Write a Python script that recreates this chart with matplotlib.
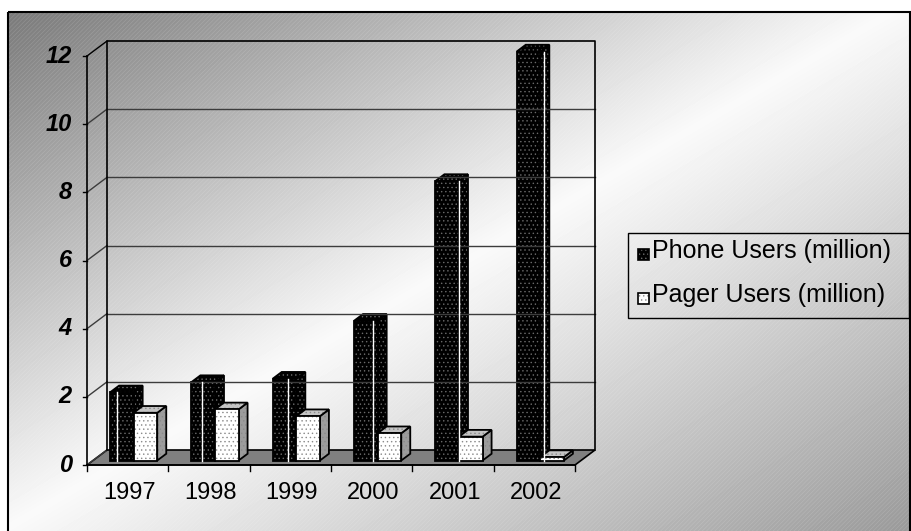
import numpy as np
import matplotlib.pyplot as plt
from matplotlib.patches import Polygon, Rectangle

# Data
years = ['1997', '1998', '1999', '2000', '2001', '2002']
phone_users = [2.0, 2.3, 2.4, 4.1, 8.2, 12.0]
pager_users = [1.4, 1.5, 1.3, 0.8, 0.7, 0.1]
series_names = ['Phone Users (million)', 'Pager Users (million)']
y_ticks = [0, 2, 4, 6, 8, 10, 12]

plt.rcParams['font.family'] = ['Liberation Sans', 'DejaVu Sans']
plt.rcParams['hatch.linewidth'] = 0.5

W, H = 911, 531
fig = plt.figure(figsize=(W / 100, H / 100), dpi=100)

# chart area: diagonal grey-white-grey gradient with fine diagonal texture
bg = fig.add_axes([0, 0, 1, 1])
bg.set_xlim(0, W)
bg.set_ylim(H, 0)
bg.axis('off')
left, top = 8, 12
yy, xx = np.mgrid[top:H, left:W]
t = xx / W + yy / H
shade = np.where(t < 1, 0.46 + 0.52 * t, 0.98 - 0.38 * (t - 1))
bg.imshow(shade, cmap='gray', vmin=0, vmax=1, extent=(left, W, H, top),
          interpolation='bilinear', aspect='auto')
bg.add_patch(Rectangle((left, top), W - left, H - top, fill=False,
                       hatch='////////', edgecolor=(1, 1, 1, 0.14), lw=0))
bg.add_patch(Rectangle((left, top), W - left - 1.5, H, fill=False,
                       edgecolor='black', lw=1.5))

# plot axes: x in categories, y in millions
ax = fig.add_axes([87 / W, 1 - 465 / H, 488 / W, 409 / H])
ax.set_xlim(0, len(years))
ax.set_ylim(0, 12)
ax.axis('off')
px_x = 488 / len(years)   # pixels per category
px_y = 409 / 12           # pixels per million
DX, DY = 20 / px_x, 15 / px_y   # depth of the 3d box

grid_col = '#3c3c3c'
n = len(years)

# floor
ax.add_patch(Polygon([(0, 0), (n, 0), (n + DX, DY), (DX, DY)],
                     closed=True, fc='#808080', ec='black', lw=1.2, clip_on=False))
# walls and gridlines
for v in y_ticks:
    ax.plot([0, DX], [v, v + DY], color=grid_col if v < 12 else 'black', lw=1, clip_on=False)
    if 0 < v < 12:
        ax.plot([DX, n + DX], [v + DY, v + DY], color=grid_col, lw=1, clip_on=False)
    ax.plot([-4 / px_x, 0], [v, v], color='black', lw=1, clip_on=False)
    ax.text(-15 / px_x, v, str(v), ha='right', va='center', fontsize=17,
            fontweight='bold', fontstyle='italic', clip_on=False)
ax.plot([DX, DX, n + DX, n + DX], [DY, 12 + DY, 12 + DY, DY], color='black', lw=1.2, clip_on=False)
ax.plot([0, 0], [0, 12], color='black', lw=1.2, clip_on=False)
ax.plot([0, n], [0, 0], color='black', lw=1.2, clip_on=False)
for k in range(n + 1):
    ax.plot([k, k], [0, -6 / px_y], color='black', lw=1, clip_on=False)
for i, yr in enumerate(years):
    ax.text(i + 0.52, -17 / px_y, yr, ha='center', va='top', fontsize=17, clip_on=False)


def face(pts, color, dots):
    ax.add_patch(Polygon(pts, closed=True, fc=color, ec=dots, lw=0,
                         hatch='....', clip_on=False))
    ax.add_patch(Polygon(pts, closed=True, fill=False, ec='black', lw=1.3,
                         clip_on=False))


def bar3d(x0, value, colors, dots):
    z0, z1 = 0.3, 0.75
    bx, by = (z1 - z0) * DX, (z1 - z0) * DY
    x0 = x0 + z0 * DX
    x1 = x0 + bar_w
    y0 = z0 * DY
    y1 = y0 + value
    face([(x1, y0), (x1 + bx, y0 + by), (x1 + bx, y1 + by), (x1, y1)], colors[1], dots)
    face([(x0, y1), (x1, y1), (x1 + bx, y1 + by), (x0 + bx, y1 + by)], colors[2], dots)
    face([(x0, y0), (x1, y0), (x1, y1), (x0, y1)], colors[0], dots)
    return x0, y0, y1


gap, bar_w = 0.21, 0.29
for i in range(n):
    x0, y0, y1 = bar3d(i + gap, phone_users[i], ('black', 'black', 'black'), '#6a6a6a')
    xl = x0 + (0.3 + 0.17 * i) * bar_w
    ax.plot([xl, xl], [y0, y1], color='white', lw=1, clip_on=False)
    bar3d(i + gap + bar_w, pager_users[i], ('white', '#9c9c9c', '#c4c4c4'), '#8a8a8a')

# legend
bg.add_patch(Rectangle((628, 233), 281, 85, fill=False, ec='black', lw=1))
for j, (name, col) in enumerate(zip(series_names, ['black', 'white'])):
    y = 249 + j * 44
    bg.add_patch(Rectangle((638, y), 11, 11, fc=col, ec='#8a8a8a' if j else '#6a6a6a',
                           lw=0, hatch='....'))
    bg.add_patch(Rectangle((638, y), 11, 11, fill=False, ec='black', lw=1.2))
    bg.text(652, y + 9, name, ha='left', va='baseline', fontsize=18)

fig.savefig('out.png', dpi=100)
